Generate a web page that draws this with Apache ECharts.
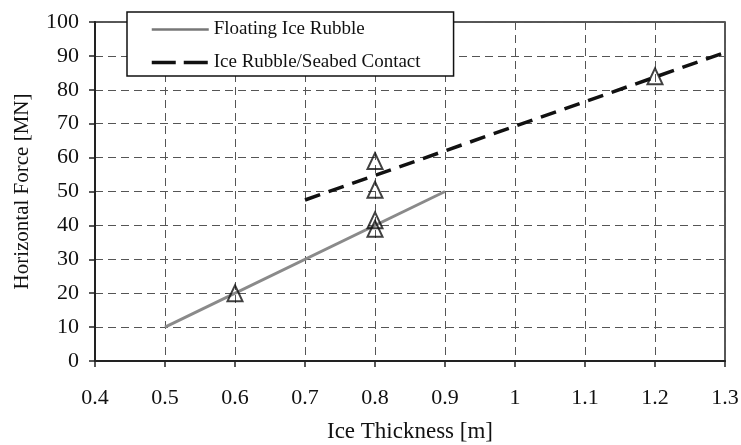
<!DOCTYPE html>
<html>
<head>
<meta charset="utf-8">
<script src="https://cdn.jsdelivr.net/npm/echarts@6/dist/echarts.min.js"></script>
<style>
  html, body { margin: 0; padding: 0; background: #fff; }
  #main { width: 741px; height: 445px; }
</style>
</head>
<body>
<div id="main"></div>
<script>
(function() {

    // 浮冰 (Floating Ice Rubble)
    var floatThick = [0.5, 0.9];
    var floatForce = [10, 50];
    // 冰碎块/海床接触
    var seabedThick = [0.7, 1.3];
    var seabedForce = [47.5, 91];
    // 试验点
    var testThick = [0.6, 0.8, 0.8, 0.8, 0.8, 1.2];
    var testForce = [20, 59, 50.5, 41.5, 39, 84];

    var seriesNames = ['Floating Ice Rubble', 'Ice Rubble/Seabed Contact'];

    function pairs(xs, ys) {
        var out = [];
        for (var i = 0; i < xs.length; i++) {
            out.push([xs[i], ys[i]]);
        }
        return out;
    }

    var font = 'Liberation Serif';
    var gridLine = {
        show: true,
        lineStyle: { color: '#555', width: 1, type: [8, 5] }
    };

    var myChart = echarts.init(document.getElementById('main'));
    var option = {
        backgroundColor: '#fff',
        animation: false,
        textStyle: { fontFamily: font, color: '#111' },
        grid: {
            left: 95, right: 16, top: 22, bottom: 84,
            outerBoundsMode: 'none',
            show: true,
            borderColor: '#222',
            borderWidth: 1.5
        },
        legend: {
            data: [
                { name: seriesNames[0], lineStyle: { width: 2.5, color: '#777' } },
                { name: seriesNames[1], lineStyle: { width: 3.5, type: [24, 8] } }
            ],
            orient: 'vertical',
            left: 127,
            top: 12,
            itemWidth: 57,
            itemHeight: 14,
            itemGap: 14,
            padding: [8, 33, 4, 23],
            backgroundColor: '#fff',
            borderColor: '#111',
            borderWidth: 1.5,
            borderRadius: 0,
            itemStyle: { opacity: 0 },
            lineStyle: { opacity: 1 },
            textStyle: { fontFamily: font, fontSize: 19, color: '#111' }
        },
        xAxis: {
            type: 'value',
            min: 0.4,
            max: 1.3,
            interval: 0.1,
            name: 'Ice Thickness [m]',
            nameLocation: 'middle',
            nameGap: 59,
            nameTextStyle: { fontFamily: font, fontSize: 23, color: '#111' },
            axisLine: { show: true, onZero: false, lineStyle: { color: '#222', width: 2 } },
            axisTick: { show: true, length: 6, lineStyle: { color: '#222', width: 1.5 } },
            axisLabel: {
                fontFamily: font, fontSize: 22, color: '#111', margin: 26,
                formatter: function(v) { return String(+v.toFixed(1)); }
            },
            splitLine: gridLine
        },
        yAxis: {
            type: 'value',
            min: 0,
            max: 100,
            interval: 10,
            name: 'Horizontal Force [MN]',
            nameLocation: 'middle',
            nameGap: 62,
            nameTextStyle: { fontFamily: font, fontSize: 21, color: '#111' },
            axisLine: { show: true, lineStyle: { color: '#222', width: 2 } },
            axisTick: { show: true, length: 6, lineStyle: { color: '#222', width: 1.5 } },
            axisLabel: { fontFamily: font, fontSize: 22, color: '#111', margin: 16 },
            splitLine: gridLine
        },
        series: [
        {
            name: seriesNames[0],
            type: 'line',
            data: pairs(floatThick, floatForce),
            symbol: 'none',
            color: '#8a8a8a',
            lineStyle: { color: '#8a8a8a', width: 3 },
            z: 3
        },
        {
            name: seriesNames[1],
            type: 'line',
            data: pairs(seabedThick, seabedForce),
            symbol: 'none',
            color: '#111',
            lineStyle: { color: '#111', width: 3.5, type: [16, 9] },
            z: 3
        },
        {
            name: 'Test',
            type: 'scatter',
            data: pairs(testThick, testForce),
            symbol: 'triangle',
            symbolSize: [15, 16],
            itemStyle: { color: 'rgba(0,0,0,0)', borderColor: '#111', borderWidth: 2 },
            z: 4
        }]
    };
    myChart.setOption(option);

})();
</script>
</body>
</html>
